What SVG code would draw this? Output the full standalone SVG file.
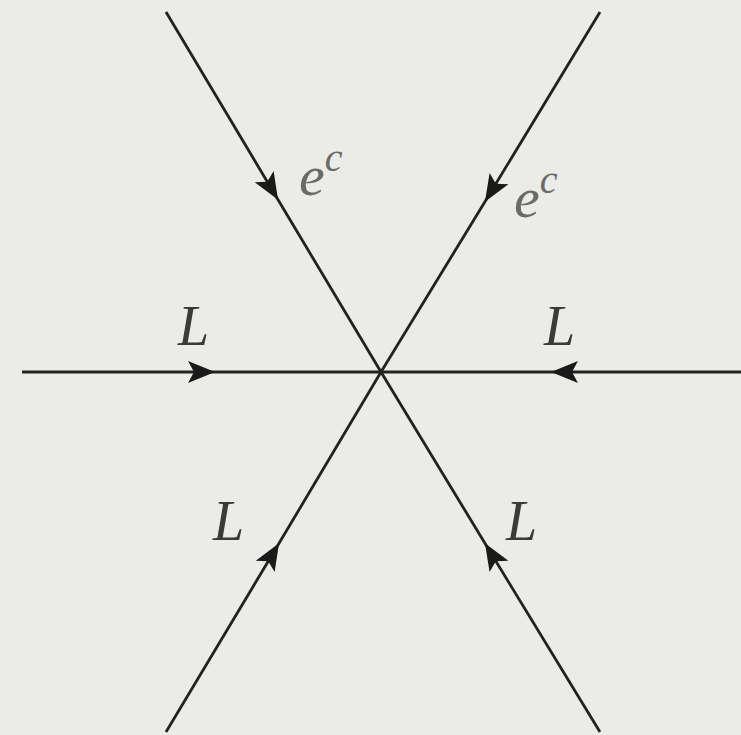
<svg xmlns="http://www.w3.org/2000/svg" width="741" height="735" viewBox="0 0 741 735">
<defs>
<marker id="arr" markerUnits="userSpaceOnUse" viewBox="-30 -14 32 28" markerWidth="32" markerHeight="28" refX="0" refY="0" orient="auto" overflow="visible">
<path d="M2,0 L-25,-11 L-19,0 L-25,11 Z" fill="#1a1a1a"/>
</marker>
<style>
.ln{fill:none;stroke:#222;stroke-width:2.8;marker-mid:url(#arr)}
.lb{font-family:"Liberation Serif","DejaVu Serif",serif;font-style:italic;font-size:56px;fill:#3a3a3a}
.ec{fill:#6a6a6a;font-size:58px}
</style>
</defs>
<rect width="741" height="735" fill="#ebebe8"/>
<g id="connectors">
<polyline class="ln" points="166,12 277,198 381,372"/>
<polyline class="ln" points="600,12 486,200 381,372"/>
<polyline class="ln" points="22,372 213,372 381,372"/>
<polyline class="ln" points="741,372 553,372 381,372"/>
<polyline class="ln" points="166,732 278,545 381,372"/>
<polyline class="ln" points="600,732 486,545 381,372"/>
</g>
<g id="label-ec-left"><text class="lb ec" x="299" y="195">e<tspan font-size="40" dy="-24">c</tspan></text></g>
<g id="label-ec-right"><text class="lb ec" x="514" y="217">e<tspan font-size="40" dy="-24">c</tspan></text></g>
<g id="label-L-left"><text class="lb" x="178" y="345">L</text></g>
<g id="label-L-right"><text class="lb" x="544" y="345">L</text></g>
<g id="label-L-lowleft"><text class="lb" x="213" y="540">L</text></g>
<g id="label-L-lowright"><text class="lb" x="506" y="540">L</text></g>
</svg>
